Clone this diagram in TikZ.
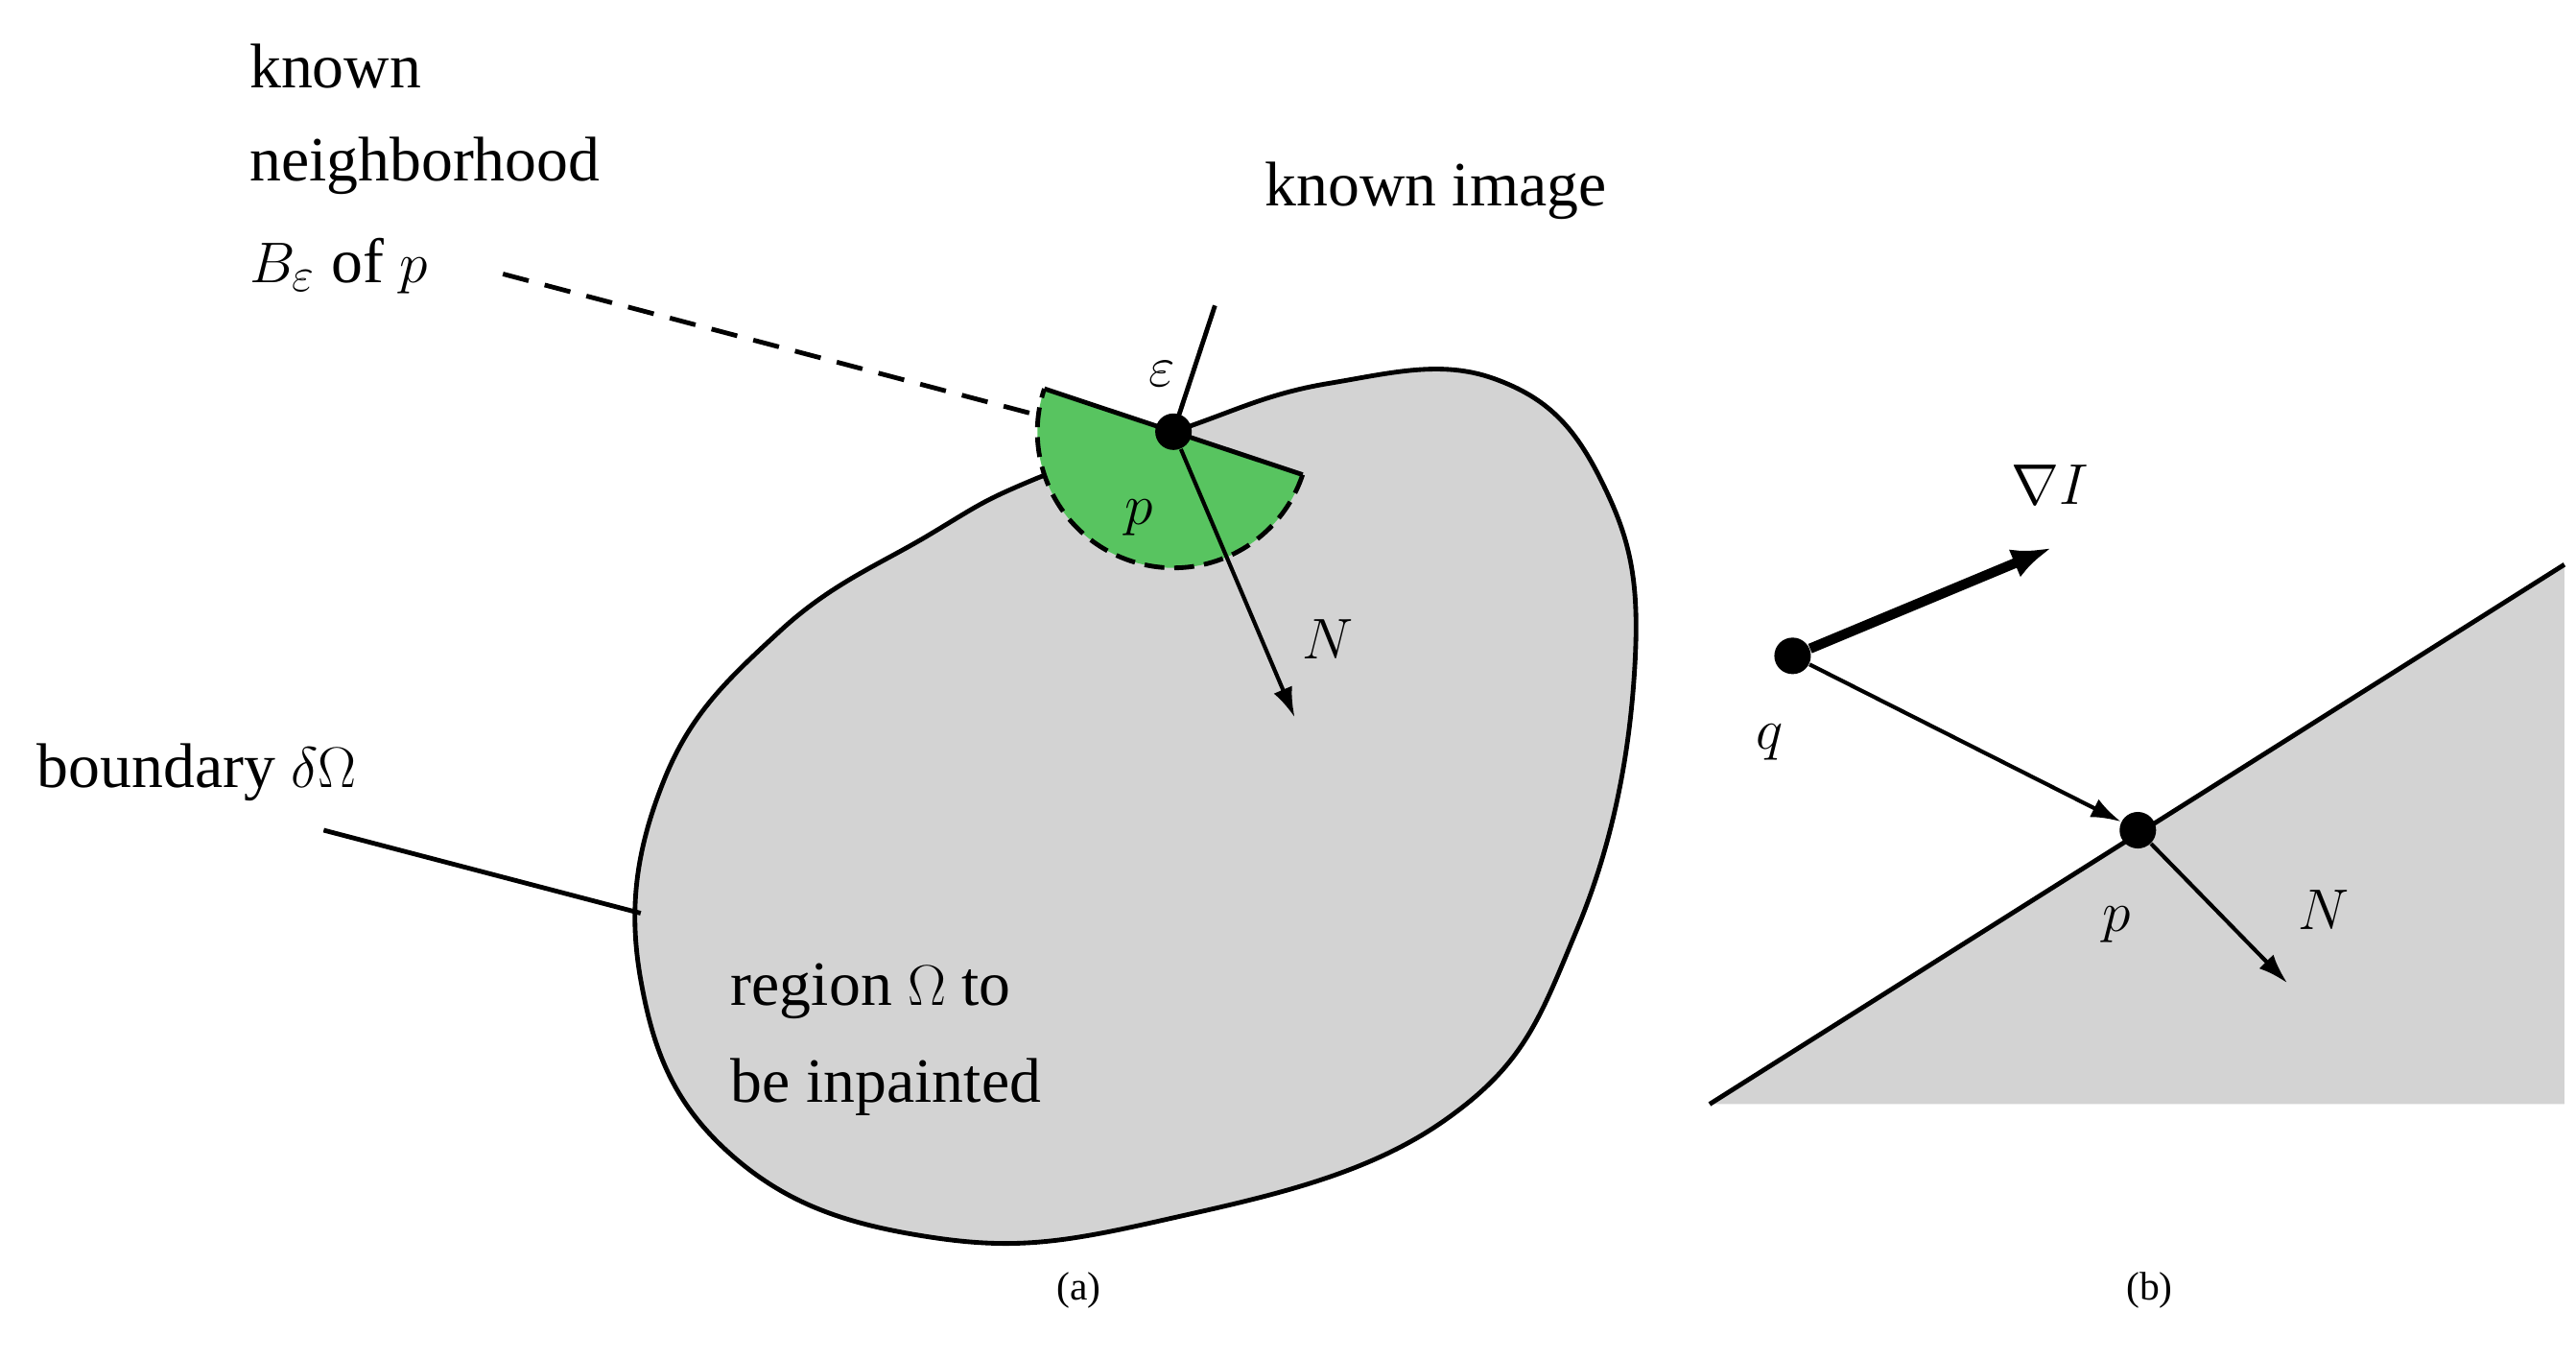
\documentclass[tikz,border=0pt]{standalone}
\usepackage{fontspec}
\setmainfont{Liberation Serif}
\usetikzlibrary{arrows.meta,calc}
\begin{document}
\begin{tikzpicture}[x=0.5pt,y=-0.5pt,
  lbl/.style={font=\fontsize{19}{23}\selectfont,inner sep=0pt},
  captxt/.style={font=\fontsize{12}{14}\selectfont,inner sep=0pt},
  arr/.style={line width=1.2pt,-{Latex[length=9pt,width=6pt]}},
  dot/.style={circle,fill=black,minimum size=11pt,inner sep=0pt}]
\useasboundingbox (0,0) rectangle (1552,818);
\definecolor{gr}{RGB}{211,211,211}
\definecolor{grn}{RGB}{88,196,96}
% blob
\draw[line width=1.4pt,fill=gr] plot[smooth cycle,tension=0.7] coordinates{
 (707,260)(800,231)(900,228)(965,290)(985,400)(950,560)(870,675)(700,735)(560,745)(440,695)(386,590)(400,470)(470,380)(560,322)(620,290)};
% green half-disk
\coordinate (p) at (707,260);
\fill[grn] (p) ++(18.4:82) arc[start angle=18.4,end angle=198.4,radius=82] -- cycle;
\draw[line width=1.4pt,dash pattern=on 6pt off 3pt] (p) ++(18.4:82) arc[start angle=18.4,end angle=198.4,radius=82];
\draw[line width=1.4pt] ($(p)+(198.4:82)$) -- ($(p)+(18.4:82)$);
\coordinate (e) at (732,184);
\draw[line width=1.4pt] (p) -- (e);
\node[dot] (pd) at (p) {};
\node[lbl] at (700,225) {$\varepsilon$};
\node[lbl] at (686,312) {$p$};
\coordinate (nt) at (780,432);
\draw[arr] (pd) -- (nt);
\node[lbl] (N1) at (800,385) {$N$};
% labels
\node[lbl,anchor=west] at (150,40) {known};
\node[lbl,anchor=west] at (150,100) {neighborhood};
\node[lbl,anchor=west] (bl) at (150,160) {$B_\varepsilon$ of $p$};
\coordinate (g1) at (625,250);
\draw[line width=1.4pt,dash pattern=on 8pt off 5pt] (303,165) -- (g1);
\node[lbl] at (865,115) {known image};
\node[lbl,anchor=west] (bd) at (22,465) {boundary $\delta\Omega$};
\coordinate (b1) at (195,500);
\coordinate (b2) at (386,550);
\draw[line width=1.4pt] (b1) -- (b2);
\node[lbl,anchor=west] at (440,597) {region $\Omega$ to};
\node[lbl,anchor=west] at (440,655) {be inpainted};
\node[captxt] at (650,777) {(a)};
\node[captxt] at (1295,777) {(b)};
% panel b
\fill[gr] (1030,665) -- (1545,340) -- (1545,665) -- cycle;
\draw[line width=1.4pt] (1030,665) -- (1545,340);
\node[dot] (q) at (1080,395) {};
\node[dot] (p2) at (1288,500) {};
\coordinate (gi) at (1236,330);
\draw[line width=3pt,-{Latex[length=12pt,width=9pt]}] (q) -- (gi);
\node[lbl] at (1235,292) {$\nabla I$};
\draw[arr] (q) -- (p2);
\node[lbl] at (1066,447) {$q$};
\node[lbl] at (1275,557) {$p$};
\coordinate (n2) at (1378,592);
\draw[arr] (p2) -- (n2);
\node[lbl] at (1400,548) {$N$};
\end{tikzpicture}
\end{document}
